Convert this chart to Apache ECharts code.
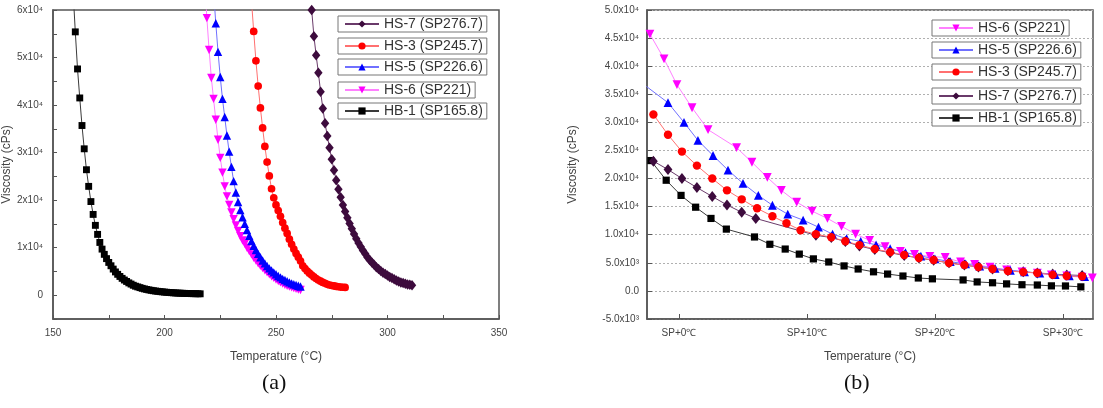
<!DOCTYPE html>
<html>
<head>
<meta charset="utf-8">
<script src="https://cdn.jsdelivr.net/npm/echarts@6/dist/echarts.min.js"></script>
<style>
  html, body { margin: 0; padding: 0; background: #fff; }
  #chart { width: 1103px; height: 408px; }
</style>
</head>
<body>
<div id="chart"></div>
<script>
// (a) viscosity vs temperature
const aTempHB1 = [159,160,161,162,163,164,165,166,167,168,169,170,171,172,173,174,175,176,177,178,179,180,181,182,183,184,185,186,187,188,189,190,191,192,193,194,195,196,197,198,199,200,201,202,203,204,205,206,207,208,209,210,211,212,213,214,215,216];
const aViscHB1 = [64000,55400,47600,41500,35700,30800,26400,22900,19700,17000,14700,12800,11100,9700,8600,7700,6900,6200,5500,4900,4400,3950,3550,3200,2900,2600,2350,2100,1900,1750,1600,1450,1330,1220,1120,1030,950,880,820,760,710,660,620,580,540,510,480,450,430,410,390,370,350,340,330,320,310,300];

const aTempHS6 = [218,219,220,221,222,223,224,225,226,227,228,229,230,231,232,233,234,235,236,237,238,239,240,241,242,243,244,245,246,247,248,249,250,251,252,253,254,255,256,257,258,259,260,261];
const aViscHS6 = [66000,58300,51600,45700,41300,36900,32700,28900,25800,22900,20800,19000,17400,16000,14700,13500,12400,11500,10800,10000,9300,8600,7900,7300,6700,6200,5700,5250,4800,4400,4000,3650,3300,3000,2700,2450,2200,2000,1800,1650,1500,1350,1200,1100];

const aTempHS5 = [222,223,224,225,226,227,228,229,230,231,232,233,234,235,236,237,238,239,240,241,242,243,244,245,246,247,248,249,250,251,252,253,254,255,256,257,258,259,260,261];
const aViscHS5 = [64000,57200,51200,45900,41300,37500,33600,30200,27000,24000,21600,19600,17900,16400,15000,13700,12500,11400,10400,9500,8700,8000,7300,6700,6150,5650,5200,4800,4400,4050,3750,3450,3200,2950,2700,2500,2300,2150,2000,1850];

const aTempHS3 = [239,240,241,242,243,244,245,246,247,248,249,250,251,252,253,254,255,256,257,258,259,260,261,262,263,264,265,266,267,268,269,270,271,272,273,274,275,276,277,278,279,280,281];
const aViscHS3 = [62000,55500,49300,44000,39400,35200,31300,28000,25100,22400,20500,19000,17800,16600,15300,14100,13000,11800,10700,9700,8800,8000,7200,6200,5600,5100,4650,4250,3850,3500,3200,2950,2700,2500,2300,2150,2050,1950,1850,1780,1720,1680,1650];

const aTempHS7 = [265,266,267,268,269,270,271,272,273,274,275,276,277,278,279,280,281,282,283,284,285,286,287,288,289,290,291,292,293,294,295,296,297,298,299,300,301,302,303,304,305,306,307,308,309,310,311];
const aViscHS7 = [66000,60000,54500,50500,46800,42800,39300,36200,33500,31000,28600,26300,24200,22300,20600,19000,17600,16300,15100,14000,12900,11900,11000,10200,9400,8700,8000,7400,6900,6400,5900,5500,5100,4750,4450,4150,3850,3600,3350,3100,2900,2700,2550,2400,2280,2180,2100];

// (b) viscosity vs temperature above softening point
const bTempHB1 = [-2.2,-1.0,0.16,1.3,2.5,3.7,5.9,7.1,8.3,9.4,10.5,11.7,12.9,14.0,15.2,16.3,17.5,18.7,19.8,22.2,23.3,24.5,25.6,26.8,28.0,29.1,30.2,31.4];
const bViscHB1 = [23200,19700,17000,14900,12900,11000,9600,8300,7450,6550,5700,5150,4450,3900,3400,3000,2650,2300,2150,1950,1600,1450,1250,1100,1050,900,880,720];

const bTempHS7 = [-2.0,-0.86,0.23,1.4,2.6,3.75,4.9,6.0,10.7,11.9,13.0,14.1,15.3,16.5,17.6,18.75,19.9,21.1,22.3,23.4,24.5,25.7,26.9,28.0,29.2,30.3,31.5];
const bViscHS7 = [23100,21600,20000,18400,16800,15300,14000,12900,9900,9500,8800,8000,7350,6800,6300,5850,5450,5000,4600,4250,3900,3600,3400,3200,3000,2850,2750];

const bTempHS6 = [-2.27,-1.17,-0.16,1.02,2.27,4.5,5.7,6.9,8.0,9.2,10.4,11.6,12.7,13.8,14.9,16.1,17.3,18.4,19.6,20.8,22.0,23.1,24.3,25.6,26.8,28.0,29.1,30.3,31.5,32.3];
const bViscHS6 = [45700,41300,36700,32600,28700,25500,22900,20200,17900,15800,14200,12900,11500,10100,9000,7900,7050,6500,6150,5950,5150,4700,4250,3750,3400,3150,2850,2650,2450,2300];

const bTempHS5 = [-2.55,-0.86,0.39,1.48,2.66,3.83,5.0,6.2,7.3,8.5,9.7,10.9,12.0,13.1,14.2,15.4,16.5,17.7,18.9,20.0,21.2,22.4,23.5,24.7,25.9,27.0,28.2,29.4,30.5,31.7];
const bViscHS5 = [36400,33500,30000,26800,24100,21500,19150,17000,15250,13650,12600,11350,10100,9300,8800,8200,7500,6800,6200,5700,5200,4800,4400,4000,3650,3400,3150,2900,2700,2550];

const bTempHS3 = [-2.0,-0.86,0.23,1.4,2.6,3.75,4.9,6.1,7.3,8.4,9.5,10.7,11.9,13.0,14.1,15.3,16.5,17.6,18.75,19.9,21.1,22.3,23.4,24.5,25.7,26.9,28.0,29.2,30.3,31.5];
const bViscHS3 = [31400,27800,24800,22300,20000,17900,16300,14700,13300,12050,10800,10100,9550,8850,8150,7450,6900,6400,5850,5500,4950,4600,4250,3900,3550,3350,3200,2850,2650,2600];

const legendA = ['HS-7 (SP276.7)', 'HS-3 (SP245.7)', 'HS-5 (SP226.6)', 'HS-6 (SP221)', 'HB-1 (SP165.8)'];
const legendB = ['HS-6 (SP221)', 'HS-5 (SP226.6)', 'HS-3 (SP245.7)', 'HS-7 (SP276.7)', 'HB-1 (SP165.8)'];
const xTicksB = [0, 10, 20, 30];

const styles = {
    'HB-1 (SP165.8)': { symbol: 'rect', color: '#000000', line: '#3a3a3a', size: 6, rotate: 0 },
    'HS-7 (SP276.7)': { symbol: 'diamond', color: '#3d0b3d', line: '#6a3a6a', size: [8, 10], rotate: 0 },
    'HS-6 (SP221)': { symbol: 'triangle', color: '#ff00ff', line: '#ff80ff', size: 8, rotate: 180 },
    'HS-5 (SP226.6)': { symbol: 'triangle', color: '#0000ff', line: '#7070ff', size: 8, rotate: 0 },
    'HS-3 (SP245.7)': { symbol: 'circle', color: '#ff0000', line: '#ff7070', size: 7, rotate: 0 }
};

function pairs(t, v) {
    return t.map((x, i) => [x, v[i]]);
}

function makeSeries(name, t, v, idx, scale) {
    const s = styles[name];
    const size = Array.isArray(s.size) ? s.size.map(d => d * scale) : s.size * scale;
    return {
        name: name,
        type: 'line',
        xAxisIndex: idx,
        yAxisIndex: idx,
        data: pairs(t, v),
        symbol: s.symbol,
        symbolSize: size,
        symbolRotate: s.rotate,
        itemStyle: { color: s.color },
        lineStyle: { color: s.line, width: 1 },
        clip: true
    };
}

const axisColor = '#555';
const labelFont = { color: '#444', fontSize: 10, fontFamily: 'Liberation Sans' };
const nameFont = { color: '#444', fontSize: 12, fontFamily: 'Liberation Sans' };

function legendItems(names, left, tops) {
    return names.map((n, i) => ({
        data: [n],
        left: left,
        top: tops[i],
        selectedMode: false,
        itemWidth: 34,
        itemHeight: 9,
        padding: [1, 4, 1, 6],
        borderColor: '#777',
        borderWidth: 1,
        backgroundColor: '#fff',
        textStyle: { fontSize: 14, color: '#333', fontFamily: 'Liberation Sans' }
    }));
}

function supLabel(v) {
    if (v === 0) return '0.0';
    if (Math.abs(v) >= 10000) return (v / 10000).toFixed(1) + 'x10⁴';
    return (v / 1000).toFixed(1) + 'x10³';
}

const myChart = echarts.init(document.getElementById('chart'), null, { renderer: 'canvas' });
myChart.setOption({
    animation: false,
    backgroundColor: '#fff',
    grid: [
        { left: 53, right: 604, top: 10, bottom: 89, show: true, borderColor: axisColor, borderWidth: 1.5 },
        { left: 647, right: 10, top: 10, bottom: 89, show: true, borderColor: axisColor, borderWidth: 1.5 }
    ],
    legend: legendItems(legendA, 338, [16, 38, 59, 82, 103])
        .concat(legendItems(legendB, 932, [20, 42, 64, 88, 110])),
    xAxis: [
        {
            gridIndex: 0, type: 'value', min: 150, max: 350, interval: 25,
            name: 'Temperature (°C)', nameLocation: 'middle', nameGap: 32, nameTextStyle: nameFont,
            axisLine: { onZero: false, lineStyle: { color: axisColor, width: 1.5 } },
            axisTick: { inside: true, length: 4, lineStyle: { color: axisColor } },
            axisLabel: { ...labelFont, margin: 9, formatter: v => (v % 50 === 0 ? String(v) : '') },
            splitLine: { show: false }
        },
        {
            gridIndex: 1, type: 'value', min: -2.5, max: 32.35,
            name: 'Temperature (°C)', nameLocation: 'middle', nameGap: 32, nameTextStyle: nameFont,
            axisLine: { onZero: false, lineStyle: { color: axisColor, width: 1.5 } },
            axisTick: { inside: true, length: 5, customValues: xTicksB, lineStyle: { color: axisColor } },
            axisLabel: { ...labelFont, margin: 9, customValues: xTicksB, formatter: v => 'SP+' + v + '℃' },
            splitLine: { show: false }
        }
    ],
    yAxis: [
        {
            gridIndex: 0, type: 'value', min: -5000, max: 60000, interval: 5000,
            name: 'Viscosity (cPs)', nameLocation: 'middle', nameGap: 40, nameTextStyle: nameFont,
            axisLine: { onZero: false, lineStyle: { color: axisColor, width: 1.5 } },
            axisTick: { inside: true, length: 4, lineStyle: { color: axisColor } },
            axisLabel: { ...labelFont, margin: 10, formatter: v => (v === 0 ? '0' : (v > 0 && v % 10000 === 0 ? (v / 10000) + 'x10⁴' : '')) },
            splitLine: { show: false }
        },
        {
            gridIndex: 1, type: 'value', min: -5000, max: 50000, interval: 5000,
            name: 'Viscosity (cPs)', nameLocation: 'middle', nameGap: 68, nameTextStyle: nameFont,
            axisLine: { onZero: false, lineStyle: { color: axisColor, width: 1.5 } },
            axisTick: { inside: true, length: 5, lineStyle: { color: axisColor } },
            axisLabel: { ...labelFont, margin: 8, formatter: supLabel },
            splitLine: { show: true, lineStyle: { color: '#b0b0b0', type: [2, 2], width: 1 } }
        }
    ],
    graphic: [
        { type: 'text', left: 262, top: 372, style: { text: '(a)', font: '22px "Liberation Serif"', fill: '#111' } },
        { type: 'text', left: 844, top: 372, style: { text: '(b)', font: '22px "Liberation Serif"', fill: '#111' } }
    ],
    series: [
        makeSeries('HB-1 (SP165.8)', aTempHB1, aViscHB1, 0, 1.15),
        makeSeries('HS-7 (SP276.7)', aTempHS7, aViscHS7, 0, 1.05),
        makeSeries('HS-6 (SP221)', aTempHS6, aViscHS6, 0, 1.05),
        makeSeries('HS-5 (SP226.6)', aTempHS5, aViscHS5, 0, 1.05),
        makeSeries('HS-3 (SP245.7)', aTempHS3, aViscHS3, 0, 1.1),
        makeSeries('HB-1 (SP165.8)', bTempHB1, bViscHB1, 1, 1.2),
        makeSeries('HS-7 (SP276.7)', bTempHS7, bViscHS7, 1, 1.1),
        makeSeries('HS-6 (SP221)', bTempHS6, bViscHS6, 1, 1.1),
        makeSeries('HS-5 (SP226.6)', bTempHS5, bViscHS5, 1, 1.1),
        makeSeries('HS-3 (SP245.7)', bTempHS3, bViscHS3, 1, 1.2)
    ]
});
</script>
</body>
</html>
